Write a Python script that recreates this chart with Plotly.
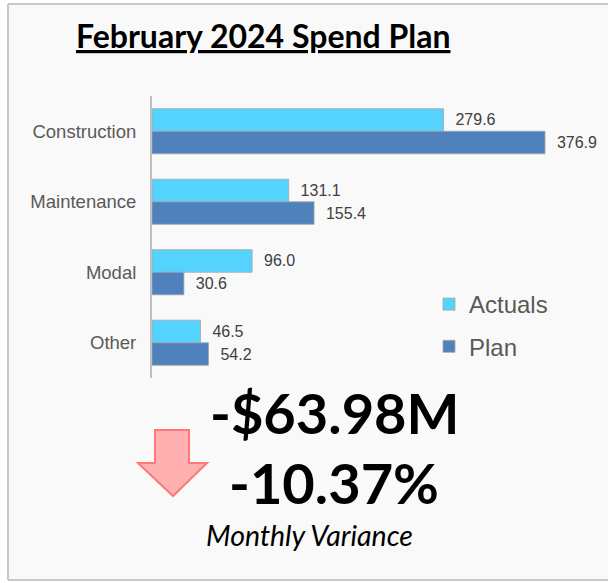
import plotly.graph_objects as go

categories = ["Construction", "Maintenance", "Modal", "Other"]
actuals = [279.6, 131.1, 96.0, 46.5]
plan = [376.9, 155.4, 30.6, 54.2]
title_text = "February 2024 Spend Plan"
variance_amount = "-$63.98M"
variance_pct = "-10.37%"
variance_label = "Monthly Variance"

W, H = 608, 583

def px(x):
    return x / W

def py(y):
    return 1 - y / H

label_font = dict(family="Liberation Sans, Arial", size=16, color="#404040")

fig = go.Figure()
fig.add_trace(go.Bar(
    y=categories, x=actuals, name="Actuals", orientation="h", legendgroup="a",
    marker=dict(color="#55d3ff", line=dict(color="#a6a6a6", width=0.8)),
    text=[f"  {v:.1f}" for v in actuals], textposition="outside",
    textfont=label_font, cliponaxis=False,
))
fig.add_trace(go.Bar(
    y=categories, x=plan, name="Plan", orientation="h", legendgroup="p",
    marker=dict(color="#4f81bd", line=dict(color="#a6a6a6", width=0.8)),
    text=[f"  {v:.1f}" for v in plan], textposition="outside",
    textfont=label_font, cliponaxis=False,
))

frame = dict(color="#c8c8c8", width=2)
shapes = [
    dict(type="rect", xref="paper", yref="paper", x0=px(8), x1=1, y0=py(580), y1=py(4),
         fillcolor="#f9f9f9", line=dict(width=0), layer="below"),
    dict(type="line", xref="paper", yref="paper", x0=px(8), x1=px(8), y0=py(580), y1=py(4),
         line=frame, layer="below"),
    dict(type="line", xref="paper", yref="paper", x0=px(8), x1=1, y0=py(4), y1=py(4),
         line=frame, layer="below"),
    dict(type="line", xref="paper", yref="paper", x0=px(8), x1=1, y0=py(580), y1=py(580),
         line=frame, layer="below"),
    dict(type="path", xref="paper", yref="paper",
         path=(f"M {px(155)} {py(430)} L {px(189)} {py(430)} L {px(189)} {py(463)} "
               f"L {px(207)} {py(463)} L {px(173)} {py(496)} L {px(138)} {py(463)} "
               f"L {px(155)} {py(463)} Z"),
         fillcolor="#ffb0b0", line=dict(color="#ff7878", width=2)),
]

annotations = [
    dict(text=f"<b><u>{title_text}</u></b>", x=px(263), y=py(36), xref="paper", yref="paper",
         showarrow=False, font=dict(family="Lato, Open Sans", size=32, color="#000000"),
         xanchor="center", yanchor="middle"),
    dict(text=f"<b>{variance_amount}</b>", x=px(335), y=py(412), xref="paper", yref="paper",
         showarrow=False, font=dict(family="Lato, Open Sans", size=56, color="#000000"),
         xanchor="center", yanchor="middle"),
    dict(text=f"<b>{variance_pct}</b>", x=px(334), y=py(482), xref="paper", yref="paper",
         showarrow=False, font=dict(family="Lato, Open Sans", size=56, color="#000000"),
         xanchor="center", yanchor="middle"),
    dict(text=f"<i>{variance_label}</i>", x=px(310), y=py(535), xref="paper", yref="paper",
         showarrow=False, font=dict(family="Lato, Open Sans", size=28.5, color="#000000"),
         xanchor="center", yanchor="middle"),
]

fig.update_layout(
    width=W, height=H,
    margin=dict(l=0, r=0, t=0, b=0),
    paper_bgcolor="#ffffff", plot_bgcolor="rgba(0,0,0,0)",
    barmode="group", bargap=0.36, bargroupgap=0,
    showlegend=True,
    legend=dict(x=px(429), y=py(282), xanchor="left", yanchor="top",
                bgcolor="rgba(0,0,0,0)", traceorder="grouped",
                font=dict(family="Liberation Sans, Arial", size=24, color="#595959"),
                tracegroupgap=8, itemwidth=30),
    xaxis=dict(domain=[px(152), 1], range=[0, 437.3], visible=False, fixedrange=True),
    yaxis=dict(domain=[py(378), py(96)], autorange="reversed", showline=True,
               linecolor="#bfbfbf", linewidth=2, showgrid=False, ticks="",
               ticklabelstandoff=10, fixedrange=True,
               tickfont=dict(family="Liberation Sans, Arial", size=18.5, color="#595959")),
    shapes=shapes,
    annotations=annotations,
    font=dict(family="Liberation Sans, Arial"),
)

fig.write_html("out.html", config={"displayModeBar": False},
               post_script="document.body.style.margin='0';document.body.style.overflow='hidden';")
